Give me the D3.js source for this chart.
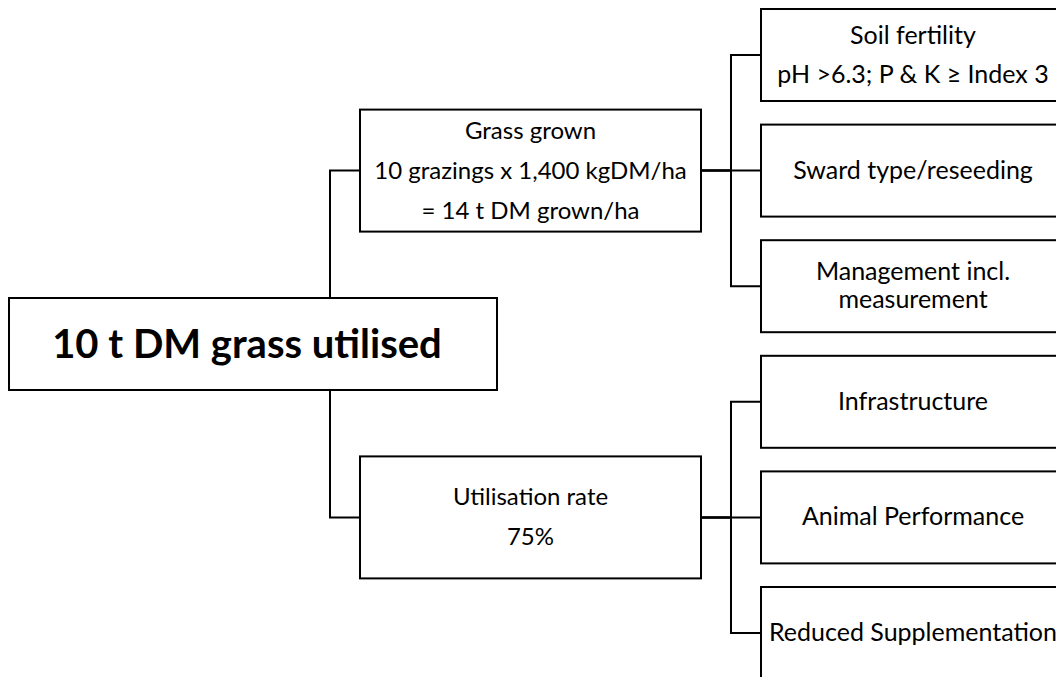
<!DOCTYPE html>
<html>
<head>
<meta charset="utf-8">
<script src="https://cdn.jsdelivr.net/npm/d3@7"></script>
<style>
  body { margin: 0; background: #fff; }
  svg { display: block; }
  text { font-family: Lato, "Open Sans", sans-serif; fill: #000; }
</style>
</head>
<body>
<div class="canvas"></div>
<script>
// labels, one array per level of the tree (each label = list of paragraphs)
const rootLabel = ["10 t DM grass utilised"]
const branchLabels = [
  ["Grass grown", "10 grazings x 1,400 kgDM/ha", "= 14 t DM grown/ha"],
  ["Utilisation rate", "75%"]
]
const leafLabels = [
  [["Soil fertility", "pH >6.3; P & K \u2265 Index 3"], ["Sward type/reseeding"], ["Management incl.\nmeasurement"]],
  [["Infrastructure"], ["Animal Performance"], ["Reduced Supplementation"]]
]

const treeData = {
  label: rootLabel,
  children: branchLabels.map((b, i) => ({
    label: b,
    children: leafLabels[i].map(l => ({ label: l }))
  }))
}

const width = 1056
const height = 677

// box geometry per depth
const boxLeft = [9, 360, 761]
const boxWidth = [488, 341, 304]
const boxHeight = [92, 122, 92]
const fontSize = [40, 24, 25]
const paraGap = [0, 40, 39]
const lineGap = 28
const rootSpineX = 330
const branchSpineX = 731

const svg = d3.select(".canvas")
  .append('svg')
    .attr('width', width)
    .attr('height', height)

const root = d3.hierarchy(treeData)
d3.cluster()
  .nodeSize([115.6, 1])
  .separation(() => 1)(root)

const rootY = 344
const cy = d => d.x + rootY

// connectors
const linkPath = l => {
  const s = l.source, t = l.target
  if (s.depth === 0) {
    const edge = cy(t) < cy(s) ? cy(s) - boxHeight[0] / 2 : cy(s) + boxHeight[0] / 2
    return `M${rootSpineX},${edge}V${cy(t)}H${boxLeft[1]}`
  }
  return `M${boxLeft[1] + boxWidth[1]},${cy(s)}H${branchSpineX}V${cy(t)}H${boxLeft[2]}`
}

svg.append('g')
  .selectAll('path')
  .data(root.links())
  .enter()
  .append('path')
    .attr('d', linkPath)
    .attr('fill', 'none')
    .attr('stroke', '#000')
    .attr('stroke-width', 2)

const nodes = svg.append('g')
  .selectAll('g')
  .data(root.descendants())
  .enter()
  .append('g')

nodes.append('rect')
  .attr('x', d => boxLeft[d.depth])
  .attr('y', d => cy(d) - boxHeight[d.depth] / 2)
  .attr('width', d => boxWidth[d.depth])
  .attr('height', d => boxHeight[d.depth])
  .attr('fill', '#fff')
  .attr('stroke', '#000')
  .attr('stroke-width', 2)

// split paragraphs into lines with offsets
const layoutLines = d => {
  const lines = []
  let off = 0
  d.data.label.forEach((p, i) => {
    if (i > 0) off += paraGap[d.depth]
    p.split('\n').forEach((ln, j) => {
      if (j > 0) off += lineGap
      lines.push({ text: ln, off })
    })
  })
  const mid = off / 2
  return lines.map(l => ({ text: l.text, y: cy(d) + l.off - mid + (d.depth === 0 ? 14 : 8) }))
}

nodes.each(function (d) {
  d3.select(this).selectAll('text')
    .data(layoutLines(d))
    .enter()
    .append('text')
      .attr('x', boxLeft[d.depth] + boxWidth[d.depth] / 2 - (d.depth === 0 ? 6 : 0))
      .attr('y', l => l.y)
      .attr('text-anchor', 'middle')
      .attr('font-size', fontSize[d.depth])
      .attr('font-weight', d.depth === 0 ? 'bold' : 'normal')
      .text(l => l.text)
})
</script>
</body>
</html>
